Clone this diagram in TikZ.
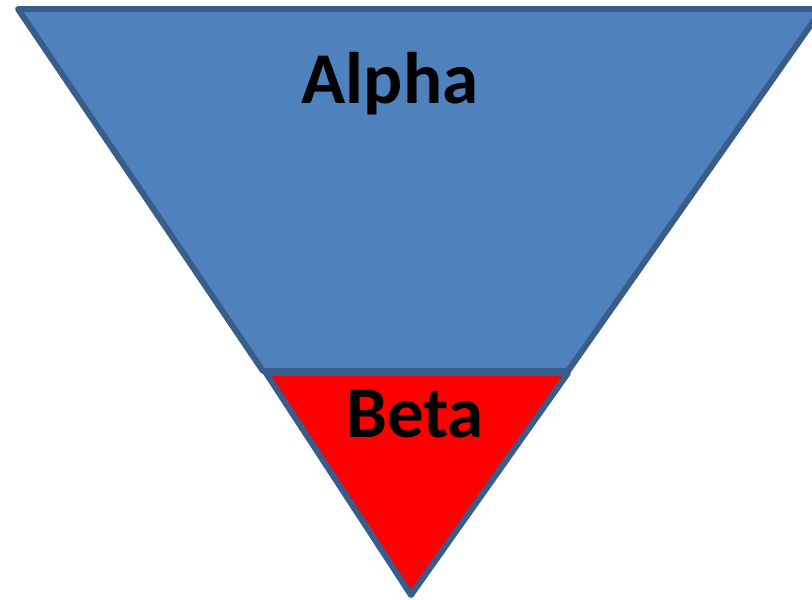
\documentclass[tikz,border=0pt]{standalone}
\usepackage{fontspec}
\setmainfont{Carlito}
\definecolor{bandblue}{HTML}{4F81BD}
\definecolor{edgeblue}{HTML}{385D8A}
\definecolor{tipred}{HTML}{FF0000}
\begin{document}
\begin{tikzpicture}[x=1pt,y=-1pt,
  layer/.style={draw=edgeblue,line width=6pt,line join=round},
  label/.style={font=\fontsize{73}{86}\selectfont\bfseries,text=black,anchor=base,inner sep=0pt}]
  \useasboundingbox (0,0) rectangle (812,600);
  \begin{scope}
    \clip (0,0) rectangle (812,600);
    % upper band of the funnel
    \draw[layer,fill=bandblue] (18,9) -- (822,9) -- (568,371) -- (263,371) -- cycle;
    % lower tip of the funnel
    \draw[layer,fill=tipred] (266,373) -- (568,373) -- (411,595) -- cycle;
  \end{scope}
  \node[label] (alpha) at (390,103) {Alpha};
  \node[label] (beta) at (415,437) {Beta};
\end{tikzpicture}
\end{document}
